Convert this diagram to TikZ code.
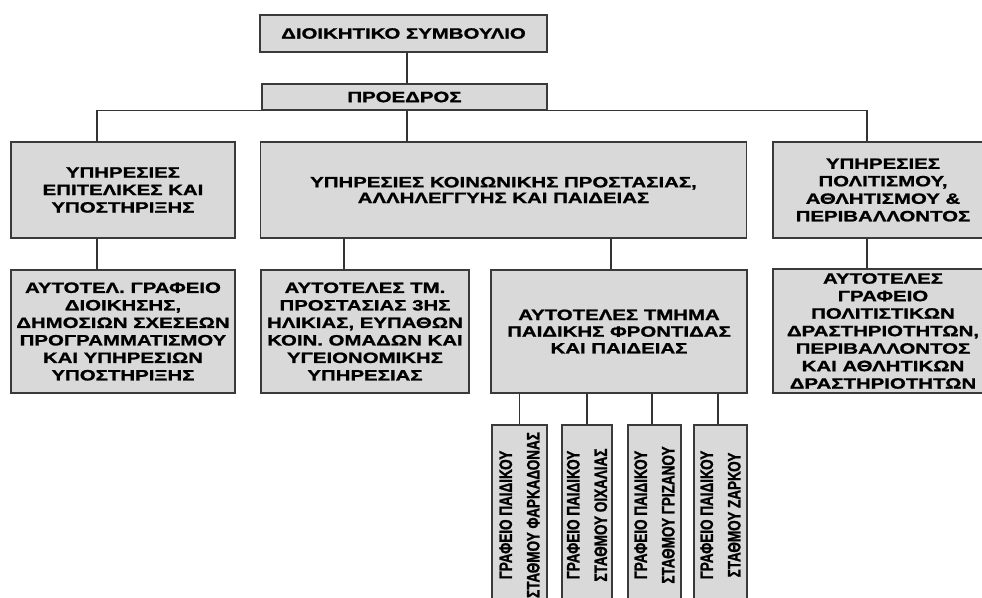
\documentclass[tikz,border=0pt]{standalone}
\usepackage{fontspec}
\setmainfont{Liberation Sans}
\newfontfamily\wideb[FakeStretch=1.36,FakeBold=1.2]{Liberation Sans Bold}
\newfontfamily\narrb[FakeStretch=0.75,FakeBold=1.2]{Liberation Sans Bold}
\definecolor{boxfill}{HTML}{D9D9D9}
\definecolor{boxline}{HTML}{3A3A3A}
\definecolor{conline}{HTML}{333333}
\begin{document}
\begin{tikzpicture}[x=1pt,y=-1pt,
  orgbox/.style={draw=boxline,fill=boxfill,line width=1.3pt,rectangle,inner sep=0pt,align=center,
     font=\wideb\fontsize{15}{17.5}\selectfont},
  smallbox/.style={draw=boxline,fill=boxfill,line width=1.3pt,rectangle,inner sep=0pt,
     minimum width=55pt,minimum height=180pt},
  vtext/.style={rotate=90,align=center,inner sep=0pt,font=\narrb\fontsize{18}{27.5}\selectfont},
  conn/.style={draw=conline,line width=1.3pt}]
\clip (0,0) rectangle (982,597);
\fill[white] (0,0) rectangle (982,597);
% row 0
\node[orgbox,minimum width=287pt,minimum height=37pt] (top) at (403.5,33.5) {ΔΙΟΙΚΗΤΙΚΟ ΣΥΜΒΟΥΛΙΟ};
\node[orgbox,minimum width=285pt,minimum height=26pt] (pro) at (404.5,97) {ΠΡΟΕΔΡΟΣ};
% row 1
\node[orgbox,minimum width=224pt,minimum height=96pt] (L1) at (123,190) {ΥΠΗΡΕΣΙΕΣ\\ΕΠΙΤΕΛΙΚΕΣ ΚΑΙ\\ΥΠΟΣΤΗΡΙΞΗΣ};
\node[orgbox,minimum width=486pt,minimum height=96pt,font=\wideb\fontsize{15}{15.7}\selectfont] (M1) at (503.5,190) {ΥΠΗΡΕΣΙΕΣ ΚΟΙΝΩΝΙΚΗΣ ΠΡΟΣΤΑΣΙΑΣ,\\ΑΛΛΗΛΕΓΓΥΗΣ ΚΑΙ ΠΑΙΔΕΙΑΣ};
\node[orgbox,minimum width=220pt,minimum height=96pt] (R1) at (883,190) {ΥΠΗΡΕΣΙΕΣ\\ΠΟΛΙΤΙΣΜΟΥ,\\ΑΘΛΗΤΙΣΜΟΥ \&\\ΠΕΡΙΒΑΛΛΟΝΤΟΣ};
% row 2
\node[orgbox,minimum width=224pt,minimum height=123pt] (L2) at (123,331.5) {ΑΥΤΟΤΕΛ. ΓΡΑΦΕΙΟ\\ΔΙΟΙΚΗΣΗΣ,\\ΔΗΜΟΣΙΩΝ ΣΧΕΣΕΩΝ\\ΠΡΟΓΡΑΜΜΑΤΙΣΜΟΥ\\ΚΑΙ ΥΠΗΡΕΣΙΩΝ\\ΥΠΟΣΤΗΡΙΞΗΣ};
\node[orgbox,minimum width=208pt,minimum height=123pt] (M2a) at (365,331.5) {ΑΥΤΟΤΕΛΕΣ ΤΜ.\\ΠΡΟΣΤΑΣΙΑΣ 3ΗΣ\\ΗΛΙΚΙΑΣ, ΕΥΠΑΘΩΝ\\ΚΟΙΝ. ΟΜΑΔΩΝ ΚΑΙ\\ΥΓΕΙΟΝΟΜΙΚΗΣ\\ΥΠΗΡΕΣΙΑΣ};
\node[orgbox,minimum width=256pt,minimum height=123pt,font=\wideb\fontsize{15}{16.7}\selectfont] (M2b) at (619,331.5) {ΑΥΤΟΤΕΛΕΣ ΤΜΗΜΑ\\ΠΑΙΔΙΚΗΣ ΦΡΟΝΤΙΔΑΣ\\ΚΑΙ ΠΑΙΔΕΙΑΣ};
\node[orgbox,minimum width=220pt,minimum height=124pt] (R2) at (883,331) {ΑΥΤΟΤΕΛΕΣ\\ΓΡΑΦΕΙΟ\\ΠΟΛΙΤΙΣΤΙΚΩΝ\\ΔΡΑΣΤΗΡΙΟΤΗΤΩΝ,\\ΠΕΡΙΒΑΛΛΟΝΤΟΣ\\ΚΑΙ ΑΘΛΗΤΙΚΩΝ\\ΔΡΑΣΤΗΡΙΟΤΗΤΩΝ};
% row 3
\node[smallbox] (sa) at (519.5,515) {};
\node[smallbox,minimum width=50pt] (sb) at (587,515) {};
\node[smallbox,minimum width=53pt] (sc) at (654.5,515) {};
\node[smallbox,minimum width=53pt] (sd) at (720.5,515) {};
\node[vtext] (ta) at (sa.center) {ΓΡΑΦΕΙΟ ΠΑΙΔΙΚΟΥ\\ΣΤΑΘΜΟΥ ΦΑΡΚΑΔΟΝΑΣ};
\node[vtext] (tb) at (sb.center) {ΓΡΑΦΕΙΟ ΠΑΙΔΙΚΟΥ\\ΣΤΑΘΜΟΥ ΟΙΧΑΛΙΑΣ};
\node[vtext] (tc) at (sc.center) {ΓΡΑΦΕΙΟ ΠΑΙΔΙΚΟΥ\\ΣΤΑΘΜΟΥ ΓΡΙΖΑΝΟΥ};
\node[vtext] (td) at (sd.center) {ΓΡΑΦΕΙΟ ΠΑΙΔΙΚΟΥ\\ΣΤΑΘΜΟΥ ΖΑΡΚΟΥ};
% connectors
\coordinate (xl) at (97,0);
\coordinate (xm) at (407,0);
\coordinate (xr) at (867,0);
\coordinate (xa) at (344,0);
\coordinate (xb) at (611,0);
\coordinate (xc) at (652,0);
\coordinate (xd) at (718,0);
\draw[conn] (top.south -| xm) -- (pro.north -| xm);
\draw[conn] (pro.south -| xm) -- (M1.north -| xm);
\draw[conn] (L1.north -| xl) |- (pro.south west);
\draw[conn] (pro.south east) -| (R1.north -| xr);
\draw[conn] (L1.south -| xl) -- (L2.north -| xl);
\draw[conn] (M1.south -| xa) -- (M2a.north -| xa);
\draw[conn] (M1.south -| xb) -- (M2b.north -| xb);
\draw[conn] (R1.south -| xr) -- (R2.north -| xr);
\draw[conn] (M2b.south -| sa.north) -- (sa.north);
\draw[conn] (M2b.south -| sb.north) -- (sb.north);
\draw[conn] (M2b.south -| xc) -- (sc.north -| xc);
\draw[conn] (M2b.south -| xd) -- (sd.north -| xd);
\end{tikzpicture}
\end{document}
